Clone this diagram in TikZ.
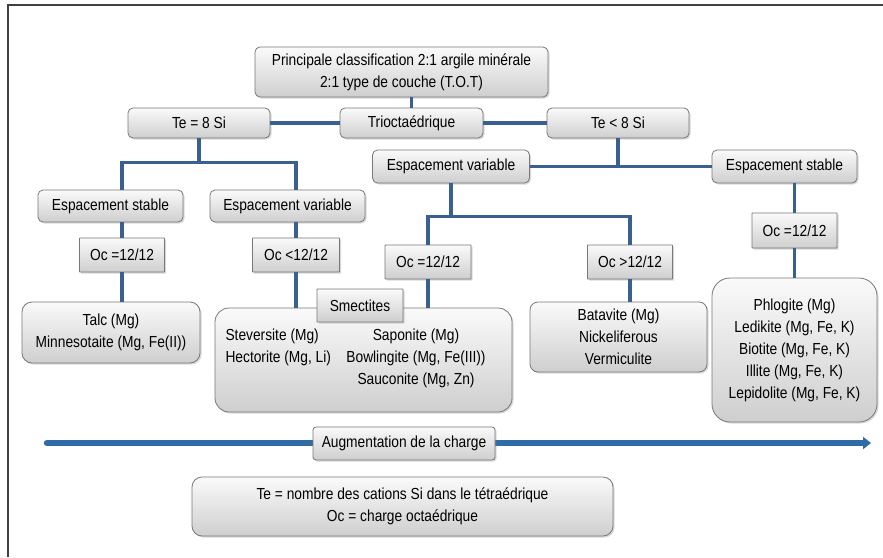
\documentclass[tikz,border=0pt]{standalone}
\usepackage{fontspec}
\setmainfont{Liberation Sans}[FakeStretch=0.86]
\usetikzlibrary{arrows.meta,shadows}
\definecolor{linkblue}{RGB}{58,96,146}
\definecolor{arrowblue}{RGB}{47,108,165}
\definecolor{boxedge}{RGB}{120,120,120}
\tikzset{
  clbox/.style={draw=boxedge, line width=0.8pt, rounded corners=#1, top color=gray!4, bottom color=gray!38,
    drop shadow={shadow xshift=1.5pt, shadow yshift=-1.5pt, opacity=.3}, inner sep=0pt, align=center},
  clbox/.default=5pt,
  ocbox/.style={clbox=0.5pt},
  link/.style={draw=linkblue, line width=3.2pt},
  chargearrow/.style={draw=arrowblue, line width=6.5pt, line cap=round, -{Triangle[length=8pt,width=12pt]}}
}
\begin{document}
\begin{tikzpicture}[x=1pt, y=-1pt, font=\fontsize{16}{22}\selectfont]
			\useasboundingbox (0,0) rectangle (883,557);
			\fill[white] (0,0) rectangle (883,557);
			% frame
			\draw[black!75, line width=1.8pt] (8,557) -- (8,5) -- (883,5);
			% top levels
			\node[clbox, minimum width=293pt, minimum height=50pt] (title) at (401.5,72) {Principale classification 2:1 argile minérale\\2:1 type de couche (T.O.T)};
			\node[clbox, minimum width=142pt, minimum height=30pt] (te8) at (199,123) {Te = 8 Si};
			\node[clbox, minimum width=143pt, minimum height=30pt] (trio) at (411.5,123) {Trioctaédrique};
			\node[clbox, minimum width=142pt, minimum height=30pt] (telt) at (618,123) {Te < 8 Si};
			\node[clbox, minimum width=145pt, minimum height=32pt] (esl) at (110.5,206) {Espacement stable};
			\node[clbox, minimum width=155pt, minimum height=32pt] (evl) at (287.5,206) {Espacement variable};
			\node[clbox, minimum width=157pt, minimum height=33pt] (evm) at (451,166.5) {Espacement variable};
			\node[clbox, minimum width=145pt, minimum height=33pt] (esr) at (784.5,166.5) {Espacement stable};
			% octahedral charge
			\node[ocbox, minimum width=85pt, minimum height=34pt] (ocA) at (122,255) {Oc =12/12};
			\node[ocbox, minimum width=87pt, minimum height=34pt] (ocB) at (296,255) {Oc <12/12};
			\node[ocbox, minimum width=86pt, minimum height=34pt] (ocC) at (428,262) {Oc =12/12};
			\node[ocbox, minimum width=85pt, minimum height=34pt] (ocD) at (630,262) {Oc >12/12};
			\node[ocbox, minimum width=85pt, minimum height=35pt] (ocE) at (794.5,230.5) {Oc =12/12};
			% minerals
			\node[clbox=10pt, minimum width=178pt, minimum height=61pt] (talc) at (111,332.5) {Talc (Mg)\\Minnesotaite (Mg, Fe(II))};
			\node[clbox=14pt, minimum width=297pt, minimum height=104pt] (smec) at (363.5,360) {};
			\node[align=left, anchor=west] (smecL) at (222,347) {Steversite (Mg)\\Hectorite (Mg, Li)};
			\node[align=center] (smecR) at (416,358) {Saponite (Mg)\\Bowlingite (Mg, Fe(III))\\Sauconite (Mg, Zn)};
			\node[ocbox, minimum width=86pt, minimum height=33pt] (smlab) at (360,305.5) {Smectites};
			\node[clbox=8pt, minimum width=177pt, minimum height=70pt] (bata) at (618.5,337) {Batavite (Mg)\\Nickeliferous\\Vermiculite};
			\node[clbox=18pt, minimum width=165pt, minimum height=144pt] (phlo) at (794.5,350) {Phlogite (Mg)\\Ledikite (Mg, Fe, K)\\Biotite (Mg, Fe, K)\\Illite (Mg, Fe, K)\\Lepidolite (Mg, Fe, K)};
			% connectors
			\draw[link] (trio.north) -- (trio.north |- title.south);
			\draw[link] (te8.east) -- (trio.west);
			\draw[link] (trio.east) -- (telt.west);
			\draw[link] (te8.south) -- ++(0,24) coordinate (jl);
			\draw[link] (ocA |- esl.north) |- (jl) -| (ocB |- evl.north);
			\draw[link] (esl.south -| ocA) -- (ocA.north);
			\draw[link] (ocA.south) -- (ocA.south |- talc.north);
			\draw[link] (evl.south -| ocB) -- (ocB.north);
			\draw[link] (ocB.south) -- (ocB.south |- smec.north);
			\draw[link] (evm.east) -- (esr.west);
			\draw[link] (telt.south) -- (telt.south |- evm.east);
			\draw[link] (evm.south) -- ++(0,33) coordinate (jm);
			\draw[link] (ocC.north) |- (jm) -| (ocD.north);
			\draw[link] (ocC.south) -- (ocC.south |- smec.north);
			\draw[link] (ocD.south) -- (ocD.south |- bata.north);
			\draw[link] (esr.south -| ocE) -- (ocE.north);
			\draw[link] (ocE.south) -- (ocE.south |- phlo.north);
			% charge axis
			\coordinate (as) at (47,443);
			\coordinate (ae) at (871,443);
			\draw[chargearrow] (as) -- (ae);
			\node[clbox=3pt, minimum width=182pt, minimum height=33pt] (aug) at (404,443.5) {Augmentation de la charge};
			\node[clbox=10pt, minimum width=421pt, minimum height=59pt] (leg) at (402.5,506.5) {Te = nombre des cations Si dans le tétraédrique\\Oc = charge octaédrique};
		\end{tikzpicture}
\end{document}
